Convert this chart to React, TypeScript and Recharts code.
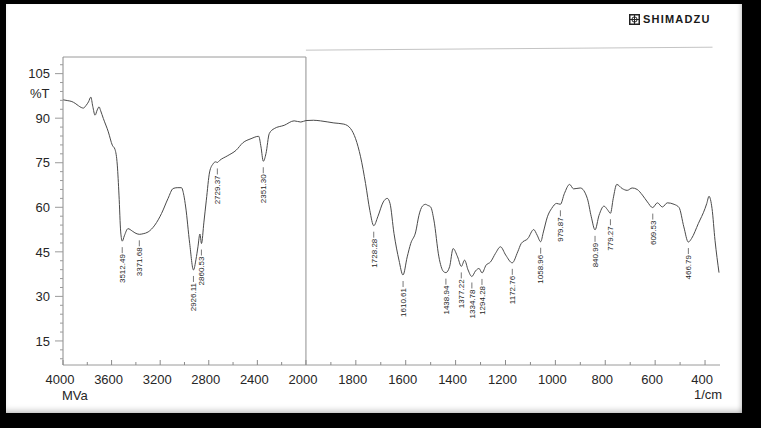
import React from 'react';
import { ComposedChart, Line, Scatter, XAxis, YAxis, ReferenceLine } from 'recharts';

// ---- spectrum data (wavenumber in 1/cm, transmittance in %T) ----
const wavenumbers = [
  4000, 3960, 3927, 3900, 3873, 3850, 3832, 3810, 3790, 3771, 3755, 3736, 3718, 3703, 3690, 3668,
  3627, 3594, 3572, 3553, 3539, 3525, 3512, 3495, 3465, 3430, 3408, 3372, 3340, 3299, 3244, 3189,
  3135, 3094, 3060, 3025, 3005, 2990, 2957, 2926, 2905, 2889, 2873, 2860, 2840, 2820, 2793, 2765,
  2745, 2729, 2710, 2643, 2575, 2520, 2452, 2389, 2370, 2351, 2329, 2302, 2261, 2179, 2097, 2042,
  2000, 1970, 1942, 1888, 1848, 1821, 1801, 1781, 1761, 1744, 1728, 1712, 1690, 1674, 1663, 1647,
  1627, 1611, 1594, 1580, 1560, 1547, 1533, 1520, 1513, 1500, 1487, 1467, 1449, 1439, 1424, 1410,
  1392, 1377, 1364, 1350, 1335, 1320, 1306, 1294, 1278, 1260, 1240, 1220, 1199, 1173, 1151, 1137,
  1110, 1087, 1073, 1059, 1048, 1032, 1015, 995, 980, 964, 943, 927, 900, 872, 856, 841,
  825, 805, 792, 779, 768, 754, 732, 712, 692, 672, 651, 631, 610, 591, 571, 551,
  524, 504, 485, 467, 454, 427, 400, 393, 384, 372, 360, 344,
];
const transmittance = [
  96.2, 95.9, 95.6, 95.0, 94.2, 93.6, 93.4, 94.3, 95.5, 97.1, 94.0, 91.0, 92.8, 93.8, 92.5, 89.9,
  85.4, 80.9, 79.5, 74.2, 64.1, 51.7, 48.6, 50.4, 52.8, 52.0, 51.4, 50.9, 51.1, 51.7, 54.0, 57.9,
  63.0, 66.3, 66.6, 66.6, 64.0, 60.1, 47.8, 38.9, 42.5, 46.7, 51.0, 47.8, 55.0, 62.4, 71.9, 74.6,
  75.3, 75.1, 75.8, 77.4, 79.2, 81.7, 83.1, 83.9, 80.3, 75.5, 78.1, 84.8, 86.5, 87.6, 89.1, 88.7,
  89.2, 89.3, 89.1, 88.4, 88.0, 86.5, 83.1, 77.0, 68.0, 59.0, 53.8, 56.8, 61.8, 63.0, 61.3, 51.2,
  42.2, 37.2, 43.3, 47.8, 51.7, 57.3, 60.4, 61.0, 60.7, 60.1, 55.7, 43.3, 38.4, 38.0, 40.0, 46.1,
  43.3, 40.1, 42.2, 38.9, 36.7, 38.6, 39.4, 37.9, 40.5, 41.6, 44.5, 46.7, 43.9, 41.3, 45.0, 47.8,
  49.5, 52.5, 50.6, 48.4, 51.7, 56.8, 59.6, 61.3, 61.0, 64.6, 67.7, 66.2, 66.5, 63.0, 56.8, 52.4,
  57.3, 60.4, 59.3, 58.0, 63.0, 67.7, 66.3, 65.7, 66.5, 66.0, 64.1, 61.8, 59.9, 61.5, 60.1, 61.5,
  61.0, 59.9, 53.4, 48.3, 49.5, 54.5, 59.6, 61.3, 63.7, 59.6, 48.9, 38.0,
];

// ---- peak annotations ----
const peakWavenumbers = [
  3512.49, 3371.68, 2926.11, 2860.53, 2729.37, 2351.3, 1728.28, 1610.61, 1438.94, 1377.22,
  1334.78, 1294.28, 1172.76, 1058.96, 979.87, 840.99, 779.27, 609.53, 466.79,
];
const peakLabels = [
  '3512.49', '3371.68', '2926.11', '2860.53', '2729.37', '2351.30', '1728.28', '1610.61', '1438.94', '1377.22',
  '1334.78', '1294.28', '1172.76', '1058.96', '979.87', '840.99', '779.27', '609.53', '466.79',
];
const peakTransmittance = [
  48.6, 50.9, 38.9, 47.8, 75.1, 75.5, 53.8, 37.2, 38.0, 40.1,
  36.7, 37.9, 41.3, 48.4, 61.0, 52.4, 58.0, 59.9, 48.3,
];

// ---- ticks ----
const xMajorTicks = [4000, 3600, 3200, 2800, 2400, 2000, 1800, 1600, 1400, 1200, 1000, 800, 600, 400];
const xMinorTicks = [3800, 3400, 3000, 2600, 2200, 1900, 1700, 1500, 1300, 1100, 900, 700, 500];
const yMajorTicks = [15, 30, 45, 60, 75, 90, 105];
const yMinorTicks = [9, 12, 18, 21, 24, 27, 33, 36, 39, 42, 48, 51, 54, 57, 63, 66, 69, 72, 78, 81, 84, 87, 93, 96, 99, 102, 108];

// split x scale: 4000-2000 compressed, 2000-400 expanded (as printed by the instrument)
const SPLIT = 2000;
const LEFT_FACTOR = 0.487;
const LEFT_SPAN = (4000 - SPLIT) * LEFT_FACTOR;
const toPos = (w: number) => (w >= SPLIT ? (4000 - w) * LEFT_FACTOR : LEFT_SPAN + (SPLIT - w));
const fromPos = (p: number) => (p <= LEFT_SPAN ? 4000 - p / LEFT_FACTOR : SPLIT - (p - LEFT_SPAN));
const X_END = toPos(340);
const Y_MIN = 6.9;
const Y_MAX = 110.6;

const lineData = wavenumbers.map((w, i) => ({ pos: toPos(w), t: transmittance[i] }));
const peakData = peakWavenumbers.map((w, i) => ({ pos: toPos(w), t: peakTransmittance[i], label: peakLabels[i] }));
const xTicks = [...xMajorTicks, ...xMinorTicks].map(toPos).sort((a, b) => a - b);
const yTicks = [...yMajorTicks, ...yMinorTicks].sort((a, b) => a - b);

const FONT = '"Liberation Sans", Arial, sans-serif';
const TEXT = '#262626';

const XTick = (props: any) => {
  const { x, y, payload } = props;
  const w = Math.round(fromPos(payload.value));
  const major = xMajorTicks.includes(w);
  return (
    <g>
      <line x1={x} x2={x} y1={y} y2={y - (major ? 5 : 3)} stroke="#8a8a8a" strokeWidth={1} />
      {major && (
        <text x={x - 3} y={y + 19} textAnchor="middle" fontSize={13} fontFamily={FONT} fill={TEXT}>
          {w}
        </text>
      )}
    </g>
  );
};

const YTick = (props: any) => {
  const { x, y, payload } = props;
  const v = payload.value;
  const major = yMajorTicks.includes(v);
  return (
    <g>
      <line x1={x - (major ? 8 : 3)} x2={x} y1={y} y2={y} stroke="#9a9a9a" strokeWidth={1} />
      {major && (
        <text x={x - 13} y={y} dy="0.36em" textAnchor="end" fontSize={13} fontFamily={FONT} fill={TEXT}>
          {v}
        </text>
      )}
    </g>
  );
};

const PeakMark = (props: any) => {
  const { cx, cy, payload } = props;
  if (cx == null || cy == null) return null;
  const ty = cy + 13;
  return (
    <g>
      <line x1={cx} x2={cx} y1={cy + 6} y2={cy + 12} stroke="#555" strokeWidth={0.8} />
      <text
        x={cx}
        y={ty}
        dy="0.35em"
        textAnchor="end"
        transform={`rotate(-90 ${cx} ${ty})`}
        fontSize={8}
        fontFamily={FONT}
        fill={TEXT}
      >
        {payload.label}
      </text>
    </g>
  );
};

export default function App() {
  return (
    <div style={{ position: 'absolute', left: 0, top: 0, width: 761, height: 428, background: '#000', overflow: 'hidden' }}>
      <div
        style={{
          position: 'absolute',
          left: 6,
          top: 4,
          width: 736,
          height: 409,
          background: '#fff',
          boxShadow: 'inset 0 -5px 6px -3px rgba(0,0,0,0.25), inset -4px 0 5px -3px rgba(0,0,0,0.2)',
        }}
      />
      <div style={{ position: 'absolute', left: 0, top: 0 }}>
        <ComposedChart width={761} height={428} margin={{ top: 57, right: 41, bottom: 23, left: 13 }}>
          <XAxis
            type="number"
            dataKey="pos"
            domain={[0, X_END]}
            ticks={xTicks}
            interval={0}
            allowDataOverflow
            height={40}
            tickSize={0}
            tickMargin={0}
            tickLine={false}
            axisLine={{ stroke: '#9a9a9a' }}
            tick={XTick}
          />
          <YAxis
            type="number"
            domain={[Y_MIN, Y_MAX]}
            ticks={yTicks}
            interval={0}
            allowDataOverflow
            width={50}
            tickSize={0}
            tickMargin={0}
            tickLine={false}
            axisLine={{ stroke: '#8a8a8a' }}
            tick={YTick}
          />
          <ReferenceLine x={toPos(2000)} stroke="#8f8f8f" strokeWidth={1} />
          <ReferenceLine
            segment={[{ x: 0, y: Y_MAX }, { x: toPos(2000), y: Y_MAX }]}
            stroke="#9a9a9a"
            strokeWidth={1}
          />
          <ReferenceLine
            segment={[{ x: toPos(2000), y: 112.9 }, { x: toPos(370), y: 113.9 }]}
            stroke="#c4c4c4"
            strokeWidth={1}
            ifOverflow="visible"
          />
          <Line
            data={lineData}
            dataKey="t"
            type="monotone"
            stroke="#4a4a4a"
            strokeWidth={1}
            dot={false}
            activeDot={false}
            isAnimationActive={false}
          />
          <Scatter data={peakData} dataKey="t" shape={PeakMark} isAnimationActive={false} />
        </ComposedChart>
      </div>
      <div style={{ position: 'absolute', left: 30, top: 87, fontFamily: FONT, fontSize: 13, lineHeight: '13px', color: TEXT }}>%T</div>
      <div style={{ position: 'absolute', left: 62, top: 389, fontFamily: FONT, fontSize: 13, lineHeight: '13px', color: TEXT }}>MVa</div>
      <div style={{ position: 'absolute', left: 694, top: 388, fontFamily: FONT, fontSize: 13, lineHeight: '13px', color: TEXT }}>1/cm</div>
      <div style={{ position: 'absolute', left: 629, top: 13, display: 'flex', alignItems: 'center' }}>
        <svg width={11} height={11} style={{ display: 'block' }}>
          <rect x={0.75} y={0.75} width={9.5} height={9.5} fill="none" stroke="#222" strokeWidth={1.5} />
          <circle cx={5.5} cy={5.5} r={2.6} fill="none" stroke="#222" strokeWidth={1} />
          <line x1={5.5} x2={5.5} y1={1} y2={10} stroke="#222" strokeWidth={1} />
          <line x1={1} x2={10} y1={5.5} y2={5.5} stroke="#222" strokeWidth={1} />
        </svg>
        <span style={{ marginLeft: 3, fontFamily: FONT, fontWeight: 700, fontSize: 11, letterSpacing: 1.2, color: '#1a1a1a' }}>
          SHIMADZU
        </span>
      </div>
    </div>
  );
}
